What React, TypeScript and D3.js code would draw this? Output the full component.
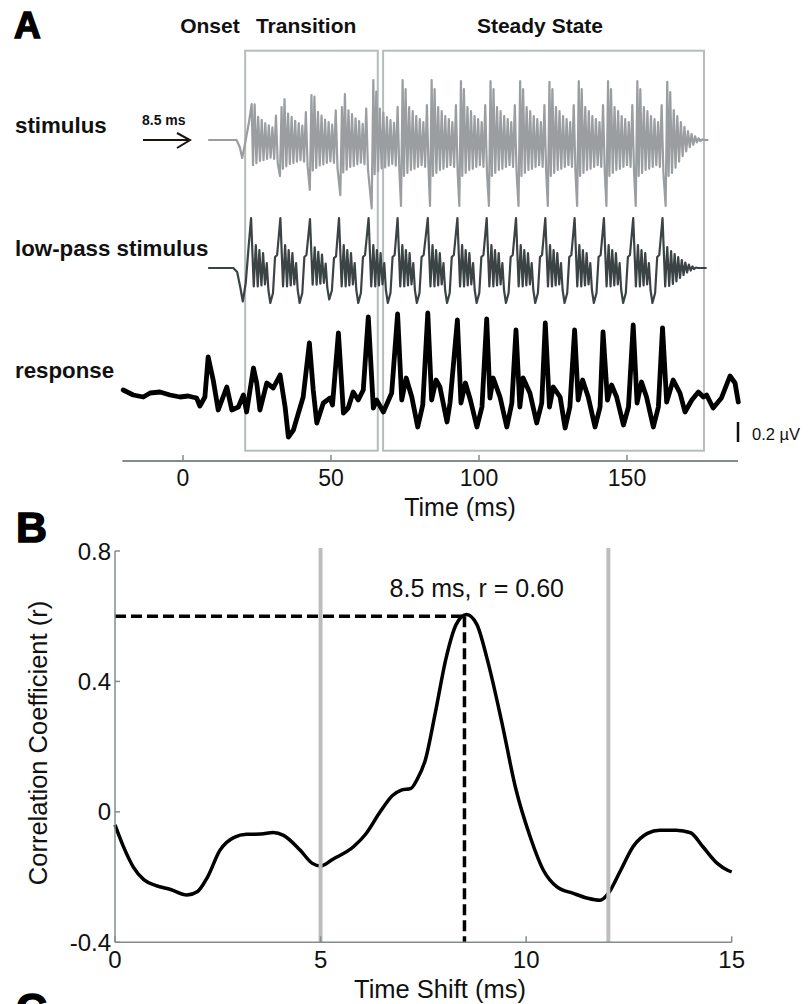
import React from "react";
import * as d3 from "d3";

type Pt = [number, number];

// ---------- panel A data ----------
const timeTicks = [0, 50, 100, 150];
const timeExtent = [-20.5, 187.5];
const phaseLabels = ["Onset", "Transition", "Steady State"];
const phaseCenters = [9.1, 41.6, 120.6]; // ms
const transitionBox = [21, 65.8];
const steadyBox = [67.6, 176];
const rowLabels = ["stimulus", "low-pass stimulus", "response"];
const neuralLag = "8.5 ms";
const scaleBarUV = 0.2;
const scaleBarBase = -0.47;

// stimulus (arbitrary units, spike top = 1)
const stimOnset: Pt[] = [[8.5, 0], [18.1, 0], [19.2, -0.12], [20.0, -0.3], [21.0, -0.05], [22.3, 0.3]];
const stimSpikes = [23.2, 33.3, 43.4, 53.7, 64.3, 74.2, 84.0, 93.9, 103.9, 113.9, 123.8, 133.7, 143.6, 153.5, 163.6];
const stimTops = [0.6, 0.55, 0.75, 0.55, 1.0, 1.0, 1.0, 0.98, 0.98, 0.98, 0.97, 0.98, 0.98, 0.98, 0.97];
const stimBottoms = [0, -0.6, -0.83, -0.92, -1.14, -1.1, -1.1, -1.1, -1.1, -1.1, -1.1, -1.1, -1.1, -1.1, -1.1];
const stimRipple = [0.7, 0.8, 0.85, 0.9, 0.95, 1, 1, 1, 1, 1, 1, 1, 1, 1, 1];
// one pitch period after the spike (ms after spike, value)
const stimCycle: Pt[] = [
  [0.45, -0.6], [1.0, 0.85], [1.6, -0.55], [2.2, 0.55], [2.8, -0.5], [3.4, 0.48], [4.0, -0.48],
  [4.6, 0.4], [5.2, -0.45], [5.8, 0.35], [6.4, -0.42], [7.0, 0.3], [7.6, -0.45], [8.2, 0.58], [8.8, -0.55],
];
const stimTail: Pt[] = [
  [0.45, -0.6], [1.0, 0.8], [1.6, -0.55], [2.2, 0.5], [2.8, -0.46], [3.4, 0.4], [4.0, -0.36],
  [4.6, 0.3], [5.2, -0.27], [5.8, 0.22], [6.4, -0.19], [7.0, 0.15], [7.6, -0.12], [8.2, 0.1],
  [8.8, -0.08], [9.4, 0.06], [10.0, -0.04], [10.6, 0.03], [11.2, -0.02], [11.8, 0.01], [12.4, 0], [13.9, 0],
];

// low-pass stimulus (peak = 1)
const lowOnset: Pt[] = [[8.5, 0], [17.0, 0], [18.3, -0.08], [19.4, -0.4], [20.2, -0.67], [21.2, -0.3], [22.2, 0.45]];
const lowPeaks = [23.0, 32.9, 42.9, 52.7, 62.7, 72.5, 82.7, 92.7, 102.6, 112.5, 122.4, 132.3, 142.2, 152.1, 162.0];
const lowTops = [1, 1, 0.98, 1, 1, 1, 1, 1, 1, 1, 1, 1, 1, 1, 1];
const lowRipple = [1, 1, 0.9, 1, 1, 1, 1, 1, 1, 1, 1, 1, 1, 1, 1];
const lowCycle: Pt[] = [
  [0.9, -0.37], [1.6, 0.46], [2.25, -0.37], [2.8, 0.36], [3.5, -0.35], [4.05, 0.3], [4.7, -0.33],
  [5.3, 0.1], [5.85, -0.44], [6.5, -0.7], [7.4, -0.5], [8.1, 0.22], [8.8, 0.26],
];
const lowTail: Pt[] = [
  [0.9, -0.37], [1.6, 0.42], [2.25, -0.36], [2.9, 0.34], [3.5, -0.32], [4.1, 0.28], [4.7, -0.27],
  [5.3, 0.22], [5.9, -0.2], [6.5, 0.16], [7.1, -0.14], [7.7, 0.11], [8.3, -0.09], [8.9, 0.07],
  [9.5, -0.05], [10.1, 0.03], [10.7, -0.02], [11.3, 0.01], [11.8, 0], [14.9, 0],
];

// response (ms, µV)
const response: Pt[] = [
  [-20.2, 0.05], [-16.8, 0.0], [-13.4, -0.02], [-11.1, 0.02], [-7.8, 0.03], [-4.4, 0.0], [-1.0, -0.02],
  [1.7, -0.01], [4.6, -0.03], [5.7, -0.11], [7.4, -0.02], [8.5, 0.38], [10.2, 0.15], [11.9, -0.15],
  [14.8, 0.08], [16.5, -0.15], [18.7, -0.12], [20.4, 0.0], [21.5, -0.17], [23.8, 0.27], [24.9, 0.12],
  [26.0, -0.15], [28.3, 0.12], [30.5, 0.07], [32.8, 0.2], [34.5, -0.12], [35.6, -0.42], [37.3, -0.35],
  [40.6, -0.02], [42.7, 0.52], [44.0, 0.05], [45.2, -0.28], [47.4, -0.08], [49.7, -0.03], [50.5, -0.1],
  [52.5, 0.62], [54.2, -0.18], [55.8, -0.13], [57.5, 0.03], [59.2, -0.05], [60.9, 0.05], [62.6, 0.78],
  [64.3, -0.13], [65.4, -0.05], [67.7, -0.17], [70.5, 0.02], [72.5, 0.81], [73.9, -0.05], [75.4, 0.17],
  [77.3, -0.02], [79.3, -0.32], [81.0, -0.1], [82.7, 0.82], [84.0, -0.05], [85.5, 0.15], [86.8, 0.08],
  [89.2, -0.27], [90.2, -0.08], [92.7, 0.75], [93.9, -0.08], [95.4, 0.12], [97.1, -0.05], [99.3, -0.32],
  [101.0, -0.12], [102.6, 0.76], [103.7, -0.03], [104.8, 0.17], [107.1, -0.02], [109.4, -0.32],
  [111.1, -0.08], [112.5, 0.65], [113.8, -0.12], [114.9, 0.17], [117.2, 0.02], [119.5, -0.28],
  [121.2, -0.08], [122.4, 0.72], [123.8, -0.12], [125.1, 0.08], [127.4, -0.02], [129.1, -0.33],
  [130.7, -0.12], [132.3, 0.65], [133.5, -0.05], [135.0, 0.15], [136.9, -0.02], [139.2, -0.32],
  [140.9, -0.12], [141.9, 0.63], [143.4, -0.05], [144.8, 0.1], [146.5, -0.02], [148.8, -0.3],
  [150.5, -0.12], [152.1, 0.7], [153.4, -0.08], [154.9, 0.13], [156.6, -0.02], [158.9, -0.32],
  [160.6, -0.12], [162.0, 0.67], [163.4, -0.07], [165.6, 0.15], [167.9, 0.02], [169.6, -0.17],
  [171.9, -0.05], [174.1, 0.03], [175.8, -0.02], [176.9, 0.0], [179.1, -0.13], [181.9, -0.03],
  [184.8, 0.19], [186.5, 0.12], [187.6, -0.07],
];

// ---------- panel B data ----------
const shiftTicks = [0, 5, 10, 15];
const corrTicks = [0.8, 0.4, 0, -0.4];
const windowEdges = [5, 12];
const bestShift = 8.5;
const bestR = 0.6;
const correlation: Pt[] = [
  [0, -0.04], [0.2, -0.105], [0.45, -0.17], [0.7, -0.208], [1.0, -0.226], [1.35, -0.238], [1.75, -0.255],
  [2.0, -0.245], [2.25, -0.2], [2.55, -0.118], [2.9, -0.078], [3.2, -0.069], [3.55, -0.068], [3.85, -0.063],
  [4.1, -0.072], [4.5, -0.117], [4.8, -0.158], [5.0, -0.166], [5.3, -0.145], [5.8, -0.107], [6.1, -0.068],
  [6.45, 0.0], [6.75, 0.05], [6.95, 0.066], [7.2, 0.072], [7.35, 0.1], [7.55, 0.16], [7.8, 0.31],
  [8.05, 0.47], [8.3, 0.575], [8.55, 0.605], [8.8, 0.575], [9.05, 0.47], [9.4, 0.28], [9.75, 0.07],
  [10.1, -0.077], [10.42, -0.179], [10.75, -0.23], [11.15, -0.25], [11.5, -0.265], [11.8, -0.271],
  [12.0, -0.25], [12.3, -0.179], [12.6, -0.107], [12.95, -0.066], [13.25, -0.056], [13.65, -0.056],
  [14.0, -0.064], [14.3, -0.107], [14.65, -0.158], [14.9, -0.179], [15.0, -0.184],
];

// lays the per-period cycle after each peak
function periodic(onset: Pt[], peaks: number[], tops: number[], bottoms: number[] | null,
  ripple: number[], cycle: Pt[], tail: Pt[]): Pt[] {
  const pts: Pt[] = [...onset];
  peaks.forEach((p, i) => {
    if (bottoms && i > 0) pts.push([p - 0.55, bottoms[i]]);
    pts.push([p, tops[i]]);
    const last = i === peaks.length - 1;
    (last ? tail : cycle).forEach(([dt, v]) => pts.push([p + dt, last ? v : v * ripple[i]]));
  });
  return pts;
}

const FONT = "'Liberation Sans', Arial, Helvetica, sans-serif";

export default function App() {
  const xA = d3.scaleLinear().domain([0, 150]).range([183, 627]);
  const yStim = d3.scaleLinear().domain([-1, 1]).range([200, 80]);
  const yLow = d3.scaleLinear().domain([-1, 1]).range([318, 218]);
  const yResp = d3.scaleLinear().domain([0, 1]).range([395, 295]);
  const boxTop = 50.7;
  const boxBottom = 450.7;
  const axisY = 461;

  const stimPts = periodic(stimOnset, stimSpikes, stimTops, stimBottoms, stimRipple, stimCycle, stimTail);
  const lowPts = periodic(lowOnset, lowPeaks, lowTops, null, lowRipple, lowCycle, lowTail);

  const stimLine = d3.line<Pt>().x((d) => xA(d[0])).y((d) => yStim(d[1]));
  const lowLine = d3.line<Pt>().x((d) => xA(d[0])).y((d) => yLow(d[1]));
  const respLine = d3.line<Pt>().x((d) => xA(d[0])).y((d) => yResp(d[1]));

  const xB = d3.scaleLinear().domain([0, 15]).range([115, 731.7]);
  const yB = d3.scaleLinear().domain([-0.4, 0.8]).range([942.3, 551]);
  const corrLine = d3.line<Pt>().x((d) => xB(d[0])).y((d) => yB(d[1])).curve(d3.curveMonotoneX);

  const rowBaselines = [133, 256, 378];
  const axisGray = "#858b8b";

  return (
    <svg width={808} height={1004} style={{ position: "absolute", left: 0, top: 0 }} fontFamily={FONT}>
      <rect width={808} height={1004} fill="#fff" />

      {/* ---------- A ---------- */}
      <text x={14} y={38} fontSize={37} fontWeight="bold" stroke="#000" strokeWidth={1.5}>A</text>
      {phaseLabels.map((l, i) => (
        <text key={l} x={xA(phaseCenters[i])} y={33} fontSize={21} fontWeight="bold" textAnchor="middle" fill="#111">{l}</text>
      ))}
      {[transitionBox, steadyBox].map((b, i) => (
        <rect key={i} x={xA(b[0])} y={boxTop} width={xA(b[1]) - xA(b[0])} height={boxBottom - boxTop}
          fill="none" stroke="#b4bcbc" strokeWidth={2} />
      ))}
      {rowLabels.map((l, i) => (
        <text key={l} x={15} y={rowBaselines[i]} fontSize={22.3} fontWeight="bold" fill="#111">{l}</text>
      ))}
      <text x={142} y={125} fontSize={14} fontWeight="bold" fill="#111">{neuralLag}</text>
      <g stroke="#1a1410" strokeWidth={2} fill="none">
        <line x1={143} y1={140} x2={190} y2={140} />
        <polyline points="177,133 190,140 177,148" />
      </g>

      <path d={stimLine(stimPts) ?? ""} fill="none" stroke="#9a9ea1" strokeWidth={2.2} strokeLinejoin="round" />
      <path d={lowLine(lowPts) ?? ""} fill="none" stroke="#3c4344" strokeWidth={2.2} strokeLinejoin="round" />
      <path d={respLine(response) ?? ""} fill="none" stroke="#000" strokeWidth={4.8} strokeLinejoin="round" strokeLinecap="round" />

      <line x1={738} x2={738} y1={yResp(scaleBarBase)} y2={yResp(scaleBarBase + scaleBarUV)} stroke="#111" strokeWidth={2.5} />
      <text x={752} y={440} fontSize={16.5} fill="#111">0.2 µV</text>

      <line x1={xA(timeExtent[0])} x2={xA(timeExtent[1])} y1={axisY} y2={axisY} stroke={axisGray} strokeWidth={2} />
      {timeTicks.map((t) => (
        <g key={t}>
          <line x1={xA(t)} x2={xA(t)} y1={axisY} y2={axisY - 6} stroke={axisGray} strokeWidth={1.5} />
          <text x={xA(t)} y={486} fontSize={23} textAnchor="middle" fill="#111">{t}</text>
        </g>
      ))}
      <text x={460} y={516} fontSize={25} textAnchor="middle" fill="#111">Time (ms)</text>

      {/* ---------- B ---------- */}
      <text x={16} y={542} fontSize={43} fontWeight="bold" stroke="#000" strokeWidth={1.5}>B</text>
      <path d={corrLine(correlation) ?? ""} fill="none" stroke="#000" strokeWidth={3.5} strokeLinejoin="round" />
      {windowEdges.map((w) => (
        <line key={w} x1={xB(w)} x2={xB(w)} y1={yB(0.8) - 3} y2={yB(-0.4)} stroke="#bdbdbd" strokeWidth={4} />
      ))}
      <g stroke="#000" strokeWidth={3.5} strokeDasharray="11,5" fill="none">
        <line x1={xB(0)} x2={xB(bestShift)} y1={yB(bestR)} y2={yB(bestR)} />
        <line x1={xB(bestShift)} x2={xB(bestShift)} y1={yB(bestR)} y2={yB(-0.4)} />
      </g>
      <text x={xB(8.8)} y={yB(bestR) - 19} fontSize={25} textAnchor="middle" fill="#111">
        {`${bestShift} ms, r = ${bestR.toFixed(2)}`}
      </text>

      <g stroke={axisGray} strokeWidth={1.5}>
        <line x1={xB(0)} x2={xB(0)} y1={yB(0.8)} y2={yB(-0.4)} />
        <line x1={xB(0)} x2={xB(15)} y1={yB(-0.4)} y2={yB(-0.4)} />
        {corrTicks.map((c) => (
          <line key={c} x1={xB(0)} x2={xB(0) + 5} y1={yB(c)} y2={yB(c)} />
        ))}
        {shiftTicks.map((s) => (
          <line key={s} x1={xB(s)} x2={xB(s)} y1={yB(-0.4)} y2={yB(-0.4) - 6} />
        ))}
      </g>
      {corrTicks.map((c) => (
        <text key={c} x={111} y={yB(c) + 8.5} fontSize={24} textAnchor="end" fill="#111">{c}</text>
      ))}
      {shiftTicks.map((s) => (
        <text key={s} x={xB(s)} y={968} fontSize={24} textAnchor="middle" fill="#111">{s}</text>
      ))}
      <text x={440} y={998} fontSize={25.5} textAnchor="middle" fill="#111">Time Shift (ms)</text>
      <text transform={`translate(47, ${743}) rotate(-90)`} fontSize={25.5} textAnchor="middle" fill="#111">
        Correlation Coefficient (r)
      </text>
      <text x={16} y={1023} fontSize={43} fontWeight="bold" stroke="#000" strokeWidth={1.5}>C</text>
    </svg>
  );
}
